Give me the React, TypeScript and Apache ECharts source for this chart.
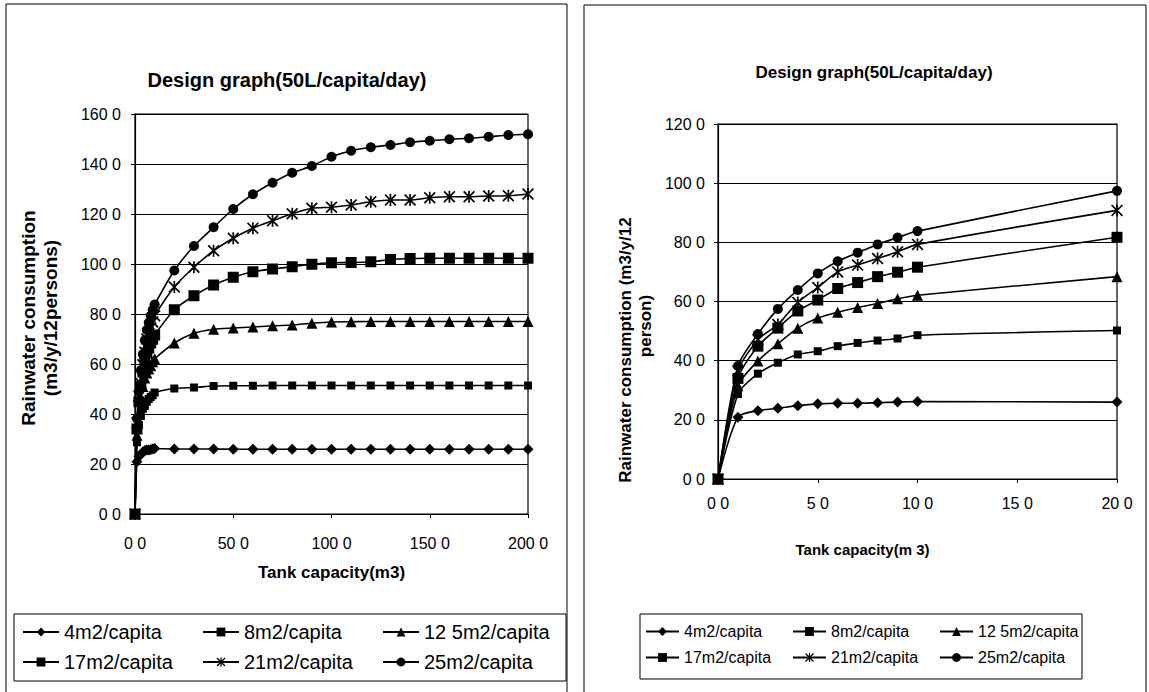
import React, { useEffect, useRef } from "react";
import * as echarts from "echarts";

// Tank capacity (m3) at which the simulation was run
const tankCapacity = [0, 1, 2, 3, 4, 5, 6, 7, 8, 9, 10, 20, 30, 40, 50, 60, 70, 80, 90, 100, 110, 120, 130, 140, 150, 160, 170, 180, 190, 200];
// the right chart only shows the points up to 20 m3
const rightPointCount = 12;

const seriesNames = ["4m2/capita", "8m2/capita", "12 5m2/capita", "17m2/capita", "21m2/capita", "25m2/capita"];

const roof4 = [0, 20.9, 23.1, 23.9, 24.8, 25.4, 25.6, 25.6, 25.8, 26, 26.2, 26, 26, 26, 25.9, 25.9, 25.9, 25.9, 25.9, 25.9, 25.9, 25.9, 25.9, 25.9, 25.9, 25.9, 25.9, 25.9, 25.9, 25.9];
const roof8 = [0, 28.7, 35.6, 39.3, 42.1, 43.2, 44.9, 46, 46.8, 47.5, 48.6, 50.2, 50.6, 51.2, 51.3, 51.3, 51.4, 51.4, 51.4, 51.4, 51.4, 51.4, 51.4, 51.4, 51.4, 51.4, 51.4, 51.4, 51.4, 51.4];
const roof12_5 = [0, 31.5, 39.9, 45.7, 51, 54.4, 56.4, 58, 59.3, 60.9, 62.1, 68.4, 72.3, 73.9, 74.4, 74.8, 75.3, 75.6, 76.3, 76.8, 76.9, 77, 77, 77, 77, 77, 77, 77, 77, 77];
const roof17 = [0, 34, 44.9, 51, 56.8, 60.5, 64.4, 66.4, 68.4, 69.9, 71.6, 81.7, 87.3, 91.6, 94.7, 96.9, 98, 98.9, 99.9, 100.5, 100.6, 100.9, 101.8, 102.2, 102.3, 102.3, 102.3, 102.3, 102.3, 102.3];
const roof21 = [0, 36.5, 47.1, 52.2, 59.7, 64.7, 70, 72.3, 74.5, 76.8, 79.3, 90.8, 98.7, 105.3, 110.3, 114.3, 117.3, 120.1, 122.3, 122.7, 123.6, 124.9, 125.6, 125.6, 126.5, 126.9, 126.9, 127.2, 127.3, 128];
const roof25 = [0, 38.2, 49, 57.5, 63.9, 69.5, 73.6, 76.5, 79.3, 81.6, 83.8, 97.4, 107.2, 114.7, 122, 127.9, 132.5, 136.5, 139.2, 142.9, 145.3, 146.7, 147.6, 148.7, 149.3, 149.9, 150.3, 150.9, 151.6, 151.9];

const seriesValues = [roof4, roof8, roof12_5, roof17, roof21, roof25];

const leftYTickLabels = ["0 0", "20 0", "40 0", "60 0", "80 0", "100 0", "120 0", "140 0", "160 0"];
const leftXTickLabels = ["0 0", "50 0", "100 0", "150 0", "200 0"];
const rightYTickLabels = ["0 0", "20 0", "40 0", "60 0", "80 0", "100 0", "120 0"];
const rightXTickLabels = ["0 0", "5 0", "10 0", "15 0", "20 0"];

const FONT = '"Liberation Sans", Arial, sans-serif';
const ASTERISK = "path://M4.3,0L5.7,0L5.7,10L4.3,10Z M0,1L1,0L10,9L9,10Z M9,0L10,1L1,10L0,9Z";
const markers = [
  { symbol: "diamond", size: 11 },
  { symbol: "rect", size: 8 },
  { symbol: "triangle", size: 11 },
  { symbol: "rect", size: 11 },
  { symbol: ASTERISK, size: 12 },
  { symbol: "circle", size: 10 },
];

function buildSeries(axisIndex: number, count: number) {
  return seriesNames.map((name, i) => ({
    type: "line",
    name,
    xAxisIndex: axisIndex,
    yAxisIndex: axisIndex,
    data: tankCapacity.slice(0, count).map((x, j) => [x, seriesValues[i][j]]),
    symbol: markers[i].symbol,
    symbolSize: markers[i].size,
    showAllSymbol: true,
    smooth: 0.25,
    lineStyle: { color: "#000", width: 1.6 },
    itemStyle: { color: "#000" },
    emphasis: { disabled: true },
  }));
}

function valueAxisCommon() {
  return {
    type: "value",
    axisLine: { show: true, lineStyle: { color: "#000", width: 1.2 } },
    axisTick: { show: true, inside: false, length: 4, lineStyle: { color: "#000" } },
    splitLine: { show: false },
  };
}

export default function App() {
  const ref = useRef<HTMLDivElement>(null);

  useEffect(() => {
    if (!ref.current) return;
    const chart = echarts.init(ref.current, null, { renderer: "svg" });
    const option = {
      animation: false,
      backgroundColor: "#fff",
      title: [
        {
          text: "Design graph(50L/capita/day)",
          left: 287,
          top: 70,
          textAlign: "center",
          padding: 0,
          textStyle: { fontFamily: FONT, fontSize: 20, lineHeight: 20, fontWeight: "bold", color: "#000" },
        },
        {
          text: "Design graph(50L/capita/day)",
          left: 874,
          top: 64,
          textAlign: "center",
          padding: 0,
          textStyle: { fontFamily: FONT, fontSize: 17, lineHeight: 17, fontWeight: "bold", color: "#000" },
        },
      ],
      grid: [
        { left: 135, top: 114, width: 393, height: 400, show: true, borderColor: "#000", borderWidth: 1.2, backgroundColor: "transparent" },
        { left: 718, top: 124, width: 399, height: 355, show: true, borderColor: "#000", borderWidth: 1.2, backgroundColor: "transparent" },
      ],
      xAxis: [
        {
          ...valueAxisCommon(),
          gridIndex: 0,
          min: 0,
          max: 200,
          interval: 50,
          name: "Tank capacity(m3)",
          nameLocation: "middle",
          nameGap: 58,
          nameTextStyle: { fontFamily: FONT, fontSize: 17, lineHeight: 17, fontWeight: "bold", color: "#000", verticalAlign: "middle" },
          axisLabel: {
            margin: 21,
            fontFamily: FONT,
            fontSize: 16,
            color: "#000",
            formatter: (v: number) => leftXTickLabels[Math.round(v / 50)],
          },
        },
        {
          ...valueAxisCommon(),
          gridIndex: 1,
          min: 0,
          max: 20,
          interval: 5,
          name: "Tank capacity(m 3)",
          nameLocation: "middle",
          nameGap: 70,
          nameTextStyle: { fontFamily: FONT, fontSize: 15, lineHeight: 15, fontWeight: "bold", color: "#000", verticalAlign: "middle", padding: [0, 110, 0, 0] },
          axisLabel: {
            margin: 16,
            fontFamily: FONT,
            fontSize: 16,
            color: "#000",
            formatter: (v: number) => rightXTickLabels[Math.round(v / 5)],
          },
        },
      ],
      yAxis: [
        {
          ...valueAxisCommon(),
          gridIndex: 0,
          min: 0,
          max: 160,
          interval: 20,
          splitLine: { show: true, lineStyle: { color: "#000", width: 1 } },
          axisLabel: {
            margin: 14,
            fontFamily: FONT,
            fontSize: 16,
            color: "#000",
            formatter: (v: number) => leftYTickLabels[Math.round(v / 20)],
          },
        },
        {
          ...valueAxisCommon(),
          gridIndex: 1,
          min: 0,
          max: 120,
          interval: 20,
          splitLine: { show: true, lineStyle: { color: "#000", width: 1 } },
          axisLabel: {
            margin: 13,
            fontFamily: FONT,
            fontSize: 16,
            color: "#000",
            formatter: (v: number) => rightYTickLabels[Math.round(v / 20)],
          },
        },
      ],
      legend: [
        {
          data: seriesNames,
          left: 14,
          top: 614,
          width: 530,
          orient: "horizontal",
          padding: [8, 14, 9, 8],
          itemGap: 10,
          itemWidth: 36,
          itemHeight: 11,
          borderColor: "#000",
          borderWidth: 1,
          selectedMode: false,
          textStyle: { fontFamily: FONT, fontSize: 20, color: "#000", width: 128, lineHeight: 17 },
        },
        {
          data: seriesNames,
          left: 640,
          top: 614,
          width: 434,
          orient: "horizontal",
          padding: [8, 3, 12, 5],
          itemGap: 7,
          itemWidth: 33,
          itemHeight: 11,
          borderColor: "#000",
          borderWidth: 1,
          selectedMode: false,
          textStyle: { fontFamily: FONT, fontSize: 16, color: "#000", width: 101, lineHeight: 19 },
        },
      ],
      graphic: [
        { type: "rect", shape: { x: 6, y: 4, width: 561, height: 700 }, style: { fill: "none", stroke: "#000", lineWidth: 1 }, silent: true },
        { type: "rect", shape: { x: 584, y: 5, width: 562, height: 700 }, style: { fill: "none", stroke: "#000", lineWidth: 1 }, silent: true },
        {
          type: "text", x: 28, y: 318, rotation: Math.PI / 2,
          style: { text: "Rainwater consumption", fontFamily: FONT, fontSize: 19, fontWeight: "bold", fill: "#000", align: "center", verticalAlign: "middle" },
        },
        {
          type: "text", x: 50, y: 318, rotation: Math.PI / 2,
          style: { text: "(m3/y/12persons)", fontFamily: FONT, fontSize: 19, fontWeight: "bold", fill: "#000", align: "center", verticalAlign: "middle" },
        },
        {
          type: "text", x: 625, y: 350, rotation: Math.PI / 2,
          style: { text: "Rainwater consumption (m3/y/12", fontFamily: FONT, fontSize: 17, fontWeight: "bold", fill: "#000", align: "center", verticalAlign: "middle" },
        },
        {
          type: "text", x: 645, y: 326, rotation: Math.PI / 2,
          style: { text: "person)", fontFamily: FONT, fontSize: 17, fontWeight: "bold", fill: "#000", align: "center", verticalAlign: "middle" },
        },
      ],
      series: [...buildSeries(0, tankCapacity.length), ...buildSeries(1, rightPointCount)],
    };
    chart.setOption(option as any);
    return () => chart.dispose();
  }, []);

  return (
    <div
      ref={ref}
      style={{ position: "fixed", left: 0, top: 0, width: 1149, height: 692, background: "#fff" }}
    />
  );
}
